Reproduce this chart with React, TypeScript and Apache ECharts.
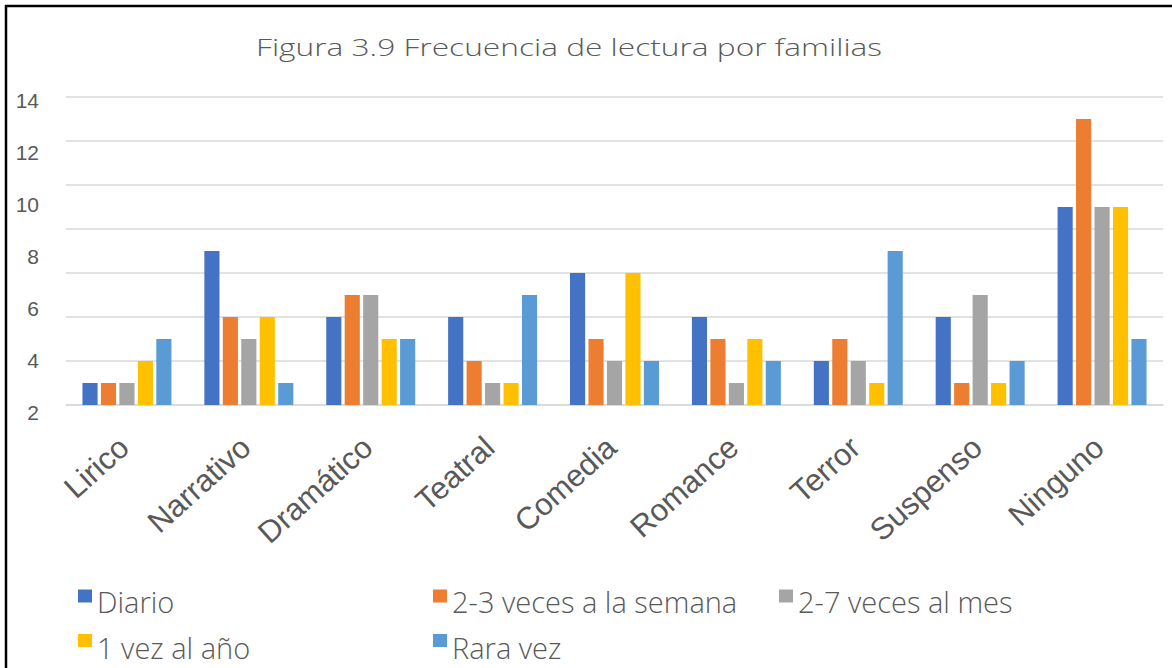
import React, { useEffect, useRef } from 'react';
import * as echarts from 'echarts';

const categories = ['Lirico', 'Narrativo', 'Dramático', 'Teatral', 'Comedia', 'Romance', 'Terror', 'Suspenso', 'Ninguno'];
const diario = [1, 7, 4, 4, 6, 4, 2, 4, 9];
const dosTresSemana = [1, 4, 5, 2, 3, 3, 3, 1, 13];
const dosSieteMes = [1, 3, 5, 1, 2, 1, 2, 5, 9];
const unaVezAnio = [2, 4, 3, 1, 6, 3, 1, 1, 9];
const raraVez = [3, 1, 3, 5, 2, 2, 7, 2, 3];
const seriesNames = ['Diario', '2-3 veces a la semana', '2-7 veces al mes', '1 vez al año', 'Rara vez'];
const seriesData = [diario, dosTresSemana, dosSieteMes, unaVezAnio, raraVez];
const colors = ['#4472C4', '#ED7D31', '#A5A5A5', '#FFC000', '#5B9BD5'];
const titleText = 'Figura 3.9 Frecuencia de lectura por familias';

const textColor = '#595959';

export default function App() {
  const ref = useRef<HTMLDivElement>(null);
  useEffect(() => {
    if (!ref.current) return;
    const chart = echarts.init(ref.current, undefined, { renderer: 'svg' });
    const legendPos = [
      { left: 78, top: 587, pad: 11 },
      { left: 433, top: 587, pad: 11 },
      { left: 779, top: 587, pad: 11 },
      { left: 78, top: 633, pad: 14 },
      { left: 433, top: 633, pad: 14 },
    ];
    chart.setOption({
      animation: false,
      backgroundColor: '#ffffff',
      legend: seriesNames.map((n, i) => ({
        data: [n],
        left: legendPos[i].left,
        top: legendPos[i].top,
        icon: 'rect',
        itemWidth: 14,
        itemHeight: 13,
        itemGap: 4,
        padding: 0,
        formatter: '{t|{name}}',
        textStyle: {
          fontFamily: 'Open Sans',
          fontWeight: 300,
          fontSize: 29,
          color: textColor,
          rich: {
            t: {
              fontFamily: 'Open Sans',
              fontWeight: 300,
              fontSize: 29,
              color: textColor,
              padding: [legendPos[i].pad, 0, 0, 0],
            },
          },
        },
        selectedMode: false,
      })),
      grid: [
        { left: 66, right: 9, top: 97, bottom: 263 },
        { left: 66, right: 9, top: 100.5, bottom: 256 },
      ],
      xAxis: [
        {
          type: 'category',
          data: categories,
          gridIndex: 0,
          axisLine: { lineStyle: { color: '#d9d9d9', width: 1.5 } },
          axisTick: { show: false },
          axisLabel: {
            interval: 0,
            rotate: 42,
            margin: 35,
            padding: [0, 4, 0, 0],
            fontFamily: 'Liberation Sans',
            fontSize: 31,
            color: textColor,
          },
        },
        { type: 'value', gridIndex: 1, show: false, min: 0, max: 1 },
      ],
      yAxis: [
        {
          type: 'value',
          gridIndex: 0,
          min: 0,
          max: 14,
          interval: 2,
          axisLabel: { show: false },
          axisLine: { show: false },
          axisTick: { show: false },
          splitLine: { lineStyle: { color: '#d9d9d9', width: 1.5 } },
        },
        {
          type: 'value',
          gridIndex: 1,
          min: 2,
          max: 14,
          interval: 2,
          axisLine: { show: false },
          axisTick: { show: false },
          splitLine: { show: false },
          axisLabel: { margin: 27, fontFamily: 'Liberation Sans', fontSize: 21, color: textColor },
        },
      ],
      series: seriesNames.map((n, i) => ({
        name: n,
        type: 'bar',
        xAxisIndex: 0,
        yAxisIndex: 0,
        data: seriesData[i],
        itemStyle: { color: colors[i] },
        barGap: '22%',
        barCategoryGap: '27%',
      })),
      graphic: [
        {
          type: 'text',
          x: 256,
          y: 47,
          scaleX: 1.32,
          style: {
            text: titleText,
            font: '300 24px "Open Sans"',
            fill: textColor,
            textAlign: 'left',
            textVerticalAlign: 'middle',
          },
        },
        { type: 'line', shape: { x1: 6, y1: 5, x2: 6, y2: 668 }, style: { stroke: '#000', lineWidth: 2.5 } },
        { type: 'line', shape: { x1: 5, y1: 6, x2: 1172, y2: 6 }, style: { stroke: '#000', lineWidth: 2.5 } },
      ],
    });
    return () => chart.dispose();
  }, []);
  return <div ref={ref} style={{ position: 'fixed', left: 0, top: 0, width: 1172, height: 668 }} />;
}
